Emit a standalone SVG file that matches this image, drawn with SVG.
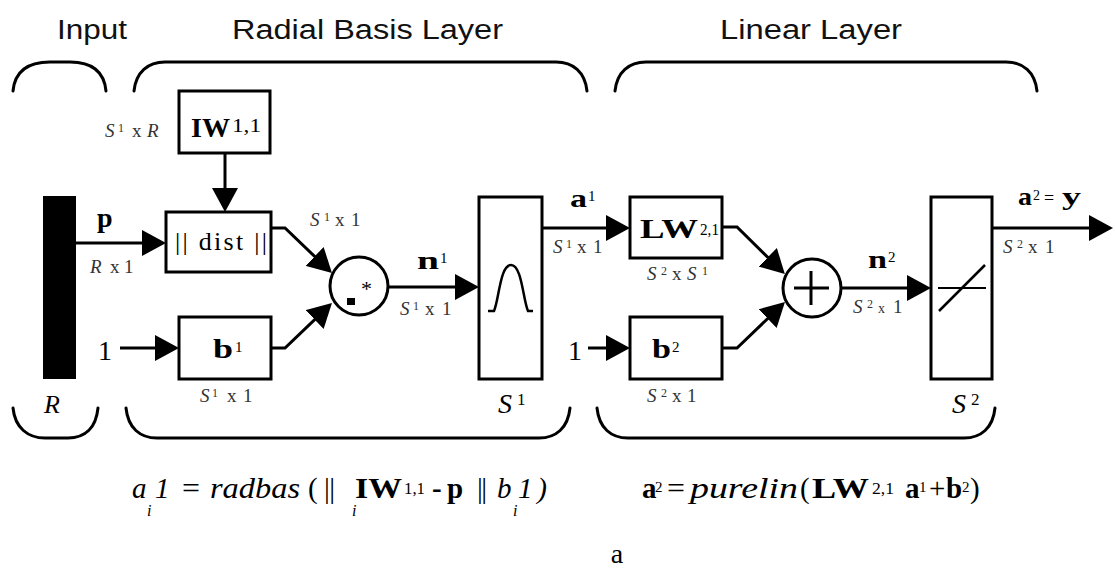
<svg xmlns="http://www.w3.org/2000/svg" width="1115" height="569" viewBox="0 0 1115 569">
<style>
.hdr{font-family:"Liberation Sans",Arial,sans-serif;font-size:27px;fill:#111}
.sr{font-family:"Liberation Serif","Times New Roman",serif;fill:#000}
.b{font-weight:bold}
.i{font-style:italic}
.dim{font-family:"Liberation Serif","Times New Roman",serif;font-size:19px;fill:#333}
.box{fill:#fff;stroke:#000;stroke-width:3}
.brace{fill:none;stroke:#000;stroke-width:3;stroke-linecap:round}
.wire{fill:none;stroke:#000;stroke-width:3}
</style>
<defs>
<marker id="ah" markerUnits="userSpaceOnUse" markerWidth="24" markerHeight="26" refX="12" refY="13" orient="auto">
<path d="M0,0 L24,13 L0,26 Z" fill="#000"/>
</marker>
</defs>
<rect width="1115" height="569" fill="#fff"/>

<g id="headers">
<text class="hdr" x="57" y="39" textLength="70" lengthAdjust="spacingAndGlyphs">Input</text>
<text class="hdr" x="232" y="39" textLength="271" lengthAdjust="spacingAndGlyphs">Radial Basis Layer</text>
<text class="hdr" x="720" y="39" textLength="182" lengthAdjust="spacingAndGlyphs">Linear Layer</text>
</g>

<g id="braces">
<path class="brace" d="M13,91 C15,70 30,62 50,62 H70 C90,62 104,70 106,91"/>
<path class="brace" d="M134,91 C136,72 148,62 165,62 H556 C573,62 585,72 587,91"/>
<path class="brace" d="M615,91 C617,72 629,62 646,62 H1006 C1023,62 1035,72 1037,91"/>
<path class="brace" d="M13,408 C15,428 28,438 45,438 H68 C85,438 96,428 98,408"/>
<path class="brace" d="M126,408 C128,428 140,438 157,438 H539 C556,438 568,428 570,408"/>
<path class="brace" d="M597,408 C599,428 611,438 628,438 H964 C981,438 993,428 995,408"/>
</g>

<g id="connectors">
<path class="wire" d="M76,243 H154" marker-end="url(#ah)"/>
<path class="wire" d="M225,153 V200" marker-end="url(#ah)"/>
<path class="wire" d="M120,348 H167" marker-end="url(#ah)"/>
<path class="wire" d="M271,228 H285 L323.3,264.7" marker-end="url(#ah)"/>
<path class="wire" d="M271,348 H285 L323.3,311.3" marker-end="url(#ah)"/>
<path class="wire" d="M388,287 H467" marker-end="url(#ah)"/>
<path class="wire" d="M542,228 H618" marker-end="url(#ah)"/>
<path class="wire" d="M588,348 H618" marker-end="url(#ah)"/>
<path class="wire" d="M722,227 H737 L776.3,265.7" marker-end="url(#ah)"/>
<path class="wire" d="M722,348 H737 L776.3,310.3" marker-end="url(#ah)"/>
<path class="wire" d="M841,288 H919" marker-end="url(#ah)"/>
<path class="wire" d="M992,228 H1101" marker-end="url(#ah)"/>
</g>

<g id="input">
<rect x="43" y="196" width="33" height="183" fill="#000"/>
<text class="sr i" x="44" y="413" font-size="26">R</text>
<text class="sr b" x="97" y="227" font-size="28">p</text>
<text class="dim" y="273"><tspan class="i" x="90">R</tspan><tspan x="110">x</tspan><tspan x="124">1</tspan></text>
<text class="sr" x="98" y="360" font-size="28">1</text>
</g>

<g id="iw">
<rect class="box" x="179" y="91" width="91" height="62"/>
<text class="sr b" x="191" y="137" font-size="28" textLength="39" lengthAdjust="spacingAndGlyphs">IW</text>
<text class="sr" x="232" y="132" font-size="19" textLength="29" lengthAdjust="spacingAndGlyphs">1,1</text>
<text class="dim" y="137"><tspan class="i" x="105">S</tspan><tspan x="118" dy="-5" font-size="12">1</tspan><tspan x="132" dy="5">x</tspan><tspan class="i" x="147">R</tspan></text>
</g>

<g id="dist">
<rect class="box" x="166" y="212" width="105" height="60"/>
<text class="sr" x="175" y="250" font-size="26" textLength="92" lengthAdjust="spacing">|| dist ||</text>
</g>

<g id="b1">
<rect class="box" x="179" y="317" width="92" height="62"/>
<text class="sr b" x="213" y="358" font-size="28" textLength="20" lengthAdjust="spacingAndGlyphs">b</text>
<text class="sr" x="235" y="352" font-size="15">1</text>
<text class="dim" y="402"><tspan class="i" x="200">S</tspan><tspan x="212" dy="-5" font-size="12">1</tspan><tspan x="227" dy="5">x</tspan><tspan x="243">1</tspan></text>
</g>

<g id="mult">
<circle cx="359" cy="286" r="29" fill="#fff" stroke="#000" stroke-width="3"/>
<rect x="347" y="298" width="8" height="7" fill="#000"/>
<text class="sr" x="361" y="296" font-size="22">*</text>
<text class="dim" y="226"><tspan class="i" x="310">S</tspan><tspan x="324" dy="-5" font-size="12">1</tspan><tspan x="335" dy="5">x</tspan><tspan x="351">1</tspan></text>
</g>

<g id="n1label">
<text class="sr b" x="417" y="269" font-size="26" textLength="22" lengthAdjust="spacingAndGlyphs">n</text>
<text class="sr" x="440" y="263" font-size="15">1</text>
<text class="dim" y="315"><tspan class="i" x="400">S</tspan><tspan x="413" dy="-5" font-size="12">1</tspan><tspan x="425" dy="5">x</tspan><tspan x="442">1</tspan></text>
</g>

<g id="radbas">
<rect class="box" x="479" y="197" width="63" height="182"/>
<path d="M488,311 H494 C499,300 500,265 511,265 C522,265 523,300 528,311 H533" fill="none" stroke="#000" stroke-width="2.5"/>
<text class="sr i" x="498" y="413" font-size="28">S</text>
<text class="sr" x="517" y="405" font-size="17">1</text>
</g>

<g id="a1label">
<text class="sr b" x="570" y="207" font-size="26" textLength="17" lengthAdjust="spacingAndGlyphs">a</text>
<text class="sr" x="588" y="201" font-size="15">1</text>
<text class="dim" y="253"><tspan class="i" x="553">S</tspan><tspan x="566" dy="-5" font-size="12">1</tspan><tspan x="577" dy="5">x</tspan><tspan x="593">1</tspan></text>
</g>

<g id="lw">
<rect class="box" x="630" y="197" width="92" height="61"/>
<text class="sr b" x="640" y="238" font-size="28" textLength="58" lengthAdjust="spacingAndGlyphs">LW</text>
<text class="sr" x="700" y="235" font-size="17" textLength="19" lengthAdjust="spacingAndGlyphs">2,1</text>
<text class="dim" y="280"><tspan class="i" x="647">S</tspan><tspan x="661" dy="-5" font-size="12">2</tspan><tspan x="672" dy="5">x</tspan><tspan class="i" x="687">S</tspan><tspan x="702" dy="-5" font-size="12">1</tspan></text>
</g>

<g id="b2">
<rect class="box" x="630" y="317" width="92" height="62"/>
<text class="sr" x="568" y="360" font-size="28">1</text>
<text class="sr b" x="652" y="358" font-size="28" textLength="19" lengthAdjust="spacingAndGlyphs">b</text>
<text class="sr" x="672" y="352" font-size="15">2</text>
<text class="dim" y="402"><tspan class="i" x="647">S</tspan><tspan x="661" dy="-5" font-size="12">2</tspan><tspan x="672" dy="5">x</tspan><tspan x="687">1</tspan></text>
</g>

<g id="sum">
<circle cx="812" cy="288" r="29" fill="#fff" stroke="#000" stroke-width="3"/>
<path d="M794,288 H829 M811,271 V305" stroke="#000" stroke-width="3"/>
</g>

<g id="n2label">
<text class="sr b" x="868" y="268" font-size="26" textLength="19" lengthAdjust="spacingAndGlyphs">n</text>
<text class="sr" x="888" y="262" font-size="15">2</text>
<text class="dim" y="313"><tspan class="i" x="853">S</tspan><tspan x="867" dy="-5" font-size="12">2</tspan><tspan x="878" dy="5" font-size="14">x</tspan><tspan x="893">1</tspan></text>
</g>

<g id="purelin">
<rect class="box" x="931" y="197" width="61" height="182"/>
<path d="M938,288 H986" stroke="#000" stroke-width="2"/>
<path d="M939,311 L985,265" stroke="#000" stroke-width="2.5"/>
<text class="sr i" x="952" y="413" font-size="28">S</text>
<text class="sr" x="971" y="405" font-size="17">2</text>
</g>

<g id="output">
<text class="sr b" x="1018" y="205" font-size="26" textLength="14" lengthAdjust="spacingAndGlyphs">a</text>
<text class="sr" x="1033" y="200" font-size="14">2</text>
<text class="sr" x="1044" y="204" font-size="18">=</text>
<text class="sr b" x="1062" y="205" font-size="26" textLength="19" lengthAdjust="spacingAndGlyphs">y</text>
<text class="dim" y="253"><tspan class="i" x="1003">S</tspan><tspan x="1017" dy="-5" font-size="12">2</tspan><tspan x="1028" dy="5">x</tspan><tspan x="1045">1</tspan></text>
</g>

<g id="eq1">
<text class="sr i" x="132" y="498" font-size="29">a</text>
<text class="sr i" x="147" y="516" font-size="16">i</text>
<text class="sr i" x="155" y="498" font-size="29">1</text>
<text class="sr" x="182" y="498" font-size="29" textLength="18" lengthAdjust="spacingAndGlyphs">=</text>
<text class="sr i" x="210" y="498" font-size="29" textLength="90" lengthAdjust="spacingAndGlyphs">radbas</text>
<text class="sr" x="308" y="498" font-size="29">(</text>
<text class="sr" x="324" y="498" font-size="29" textLength="11" lengthAdjust="spacing">||</text>
<text class="sr i" x="352" y="516" font-size="16">i</text>
<text class="sr b" x="355" y="498" font-size="29" textLength="47" lengthAdjust="spacingAndGlyphs">IW</text>
<text class="sr" x="404" y="494" font-size="16" textLength="21" lengthAdjust="spacingAndGlyphs">1,1</text>
<text class="sr b" x="432" y="498" font-size="29">-</text>
<text class="sr b" x="447" y="498" font-size="29">p</text>
<text class="sr" x="477" y="498" font-size="29" textLength="10" lengthAdjust="spacing">||</text>
<text class="sr i" x="497" y="498" font-size="29">b</text>
<text class="sr i" x="513" y="516" font-size="16">i</text>
<text class="sr i" x="518" y="498" font-size="29" textLength="29" lengthAdjust="spacing">1)</text>
</g>

<g id="eq2">
<text class="sr b" x="642" y="498" font-size="29">a</text>
<text class="sr" x="655" y="492" font-size="15">2</text>
<text class="sr" x="667" y="498" font-size="29" textLength="18" lengthAdjust="spacingAndGlyphs">=</text>
<text class="sr i" x="690" y="498" font-size="29" textLength="108" lengthAdjust="spacingAndGlyphs">purelin</text>
<text class="sr" x="800" y="498" font-size="29">(</text>
<text class="sr b" x="812" y="498" font-size="29" textLength="57" lengthAdjust="spacingAndGlyphs">LW</text>
<text class="sr" x="872" y="494" font-size="16" textLength="22" lengthAdjust="spacingAndGlyphs">2,1</text>
<text class="sr b" x="905" y="498" font-size="29">a</text>
<text class="sr" x="919" y="492" font-size="15">1</text>
<text class="sr" x="929" y="498" font-size="29">+</text>
<text class="sr b" x="946" y="498" font-size="29">b</text>
<text class="sr" x="962" y="492" font-size="15">2</text>
<text class="sr" x="970" y="498" font-size="29">)</text>
</g>

<g id="caption">
<text class="sr" x="617" y="563" font-size="28" text-anchor="middle">a</text>
</g>
</svg>
